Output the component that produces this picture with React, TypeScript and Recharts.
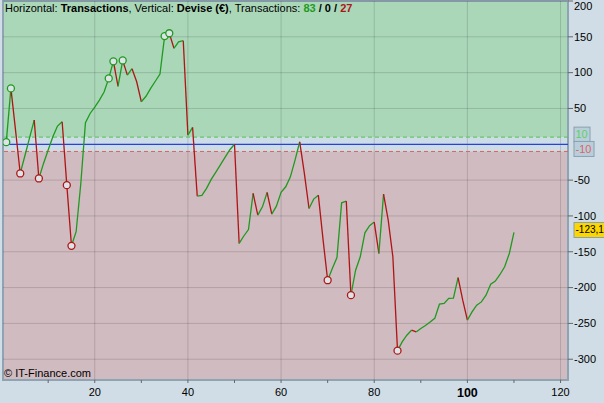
import React from 'react';
import { ComposedChart, Line, XAxis, YAxis, ReferenceArea, ReferenceLine } from 'recharts';

// cumulative result (€) after each transaction
const equity: number[] = [
  3, 78, 19, -40.7, -16, 9, 33.8, -47.7, -26.7, -8,
  10.5, 25.4, 31.4, -57, -141.7, -122, -55, 30, 43, 52,
  61.7, 73, 92, 115.8, 81, 117, 96.6, 105.5, 87.3, 59.4,
  67, 78, 88, 98, 151, 155, 134, 143, 144.6, 12.8,
  23.6, -72.3, -71.4, -61.6, -49, -38.8, -28.4, -17.9, -7.6, 0,
  -138.4, -128, -119, -68.6, -98.9, -87.3, -67.2, -97.5, -86.3, -67,
  -59.3, -45.4, -22, 3.5, -40.7, -89.6, -76.5, -71, -132.4, -189.7,
  -173.4, -158, -81.7, -79.3, -210.6, -175.7, -157, -123.6, -113.5, -108.6,
  -152.4, -69.6, -105.9, -157, -288, -275.8, -266.5, -259.5, -261.9, -257,
  -253, -248, -243, -223.2, -222.2, -215, -214.6, -186, -217.6, -245.5,
  -234, -224.6, -220, -210.6, -195.3, -191, -181.7, -171, -152.4, -123.1,
];

const xTicks = [10, 20, 30, 40, 50, 60, 70, 80, 90, 100, 110, 120];
const xGrid = [20, 40, 60, 80, 100, 120];
const yTicks = [200, 150, 100, 50, -50, -100, -150, -200, -250, -300];
const upperLimit = 10;
const lowerLimit = -10;
const wins = 83;
const flats = 0;
const losses = 27;

const GREEN = '#1f9a1f';
const RED = '#b01414';
const FONT = '"Liberation Sans", Arial, sans-serif';

// split the curve into runs going up (green) or down (red)
const rows: any[] = equity.map((v, i) => ({ n: i + 1 }));
const runs: { key: string; color: string }[] = [];
let dir = 0;
for (let i = 1; i < equity.length; i++) {
  const d = equity[i] >= equity[i - 1] ? 1 : -1;
  if (d !== dir) {
    dir = d;
    runs.push({ key: 'run' + runs.length, color: d > 0 ? GREEN : RED });
    rows[i - 1][runs[runs.length - 1].key] = equity[i - 1];
  }
  rows[i][runs[runs.length - 1].key] = equity[i];
}

// new highs / new lows get a circle
let hi = -Infinity;
let lo = Infinity;
equity.forEach((v, i) => {
  if (v > hi) { rows[i].high = v; hi = v; }
  if (i > 0 && v < lo) { rows[i].low = v; }
  lo = Math.min(lo, v);
});

const last = equity[equity.length - 1];

const XTick = (props: any) => {
  const { x, y, payload } = props;
  const v = payload.value;
  if (v % 20 !== 0) return <g />;
  return (
    <text x={x} y={y} dy="0.71em" textAnchor="middle" fontFamily={FONT}
      fontSize={v === 100 ? 12.5 : 11} fontWeight={v === 100 ? 'bold' : 'normal'} fill="#000">
      {v}
    </text>
  );
};

const YTick = (props: any) => {
  const { x, y, payload } = props;
  return (
    <text x={x} y={Math.max(y, 6)} dy="0.35em" textAnchor="start" fontFamily={FONT} fontSize={11} fill="#000">
      {payload.value}
    </text>
  );
};

const boxLabel = (text: string, fill: string, color: string, w: number, fs: number) => (props: any) => {
  const vb = props.viewBox;
  const x = vb.x + vb.width + 6;
  const y = vb.y;
  return (
    <g>
      <rect x={x} y={y - 10} width={w} height={15} fill={fill} stroke="#8aa0ae" />
      <text x={x + 1.5} y={y - 2.5} dy="0.35em" fontFamily={FONT} fontSize={fs} fill={color}>{text}</text>
    </g>
  );
};

export default function App() {
  return (
    <div style={{ position: 'absolute', left: 0, top: 0, width: 604, height: 403, background: '#d0dde6', overflow: 'hidden' }}>
      <ComposedChart width={604} height={403} data={rows} margin={{ top: 1, left: 3, right: 0, bottom: 0 }}>
        <XAxis dataKey="n" type="number" domain={[0.3, 121.6]} allowDataOverflow ticks={xTicks} interval={0}
          axisLine={false} tickSize={3} tickMargin={5} tickLine={{ stroke: '#666' }} tick={<XTick />} height={23} />
        <YAxis orientation="right" type="number" domain={[-329, 200]} allowDataOverflow ticks={yTicks} interval={0}
          axisLine={false} tickSize={5} tickMargin={1} tickLine={{ stroke: '#666' }} tick={<YTick />} width={36} />

        <ReferenceArea y1={upperLimit} y2={200} fill="#aad7b8" fillOpacity={1} stroke="none" />
        <ReferenceArea y1={lowerLimit} y2={upperLimit} fill="#ccdde6" fillOpacity={1} stroke="none" />
        <ReferenceArea y1={-329} y2={lowerLimit} fill="#d0bbc0" fillOpacity={1} stroke="none" />

        {yTicks.map((t) => (
          <ReferenceLine key={'h' + t} y={t} stroke="#000" strokeOpacity={0.14} />
        ))}
        {xGrid.map((t) => (
          <ReferenceLine key={'v' + t} x={t} stroke="#000" strokeOpacity={0.14} />
        ))}

        <ReferenceLine y={upperLimit} stroke="#55c055" strokeDasharray="4 3"
          label={boxLabel(String(upperLimit), '#b8cfdb', '#5fcf5f', 16, 11)} />
        <ReferenceLine y={lowerLimit} stroke="#e06060" strokeDasharray="4 3"
          label={boxLabel(String(lowerLimit), '#b8cfdb', '#e06262', 20, 11)} />
        <ReferenceLine y={0} stroke="#2a3fe0" strokeWidth={1.3} />

        {runs.map((r) => (
          <Line key={r.key} dataKey={r.key} stroke={r.color} strokeWidth={1.3} dot={false} activeDot={false}
            isAnimationActive={false} connectNulls={false} />
        ))}
        <Line dataKey="high" stroke="none" isAnimationActive={false} activeDot={false}
          dot={{ r: 3.5, fill: '#dde4e8', stroke: GREEN, strokeWidth: 1.3 }} />
        <Line dataKey="low" stroke="none" isAnimationActive={false} activeDot={false}
          dot={{ r: 3.5, fill: '#dde4e8', stroke: RED, strokeWidth: 1.3 }} />

        <ReferenceArea x1={0.3} x2={121.6} y1={-329} y2={200} fill="none" stroke="#8ea4b2" strokeWidth={2} />
        <ReferenceLine y={last} stroke="none"
          label={boxLabel(last.toFixed(1).replace('.', ','), '#fcd600', '#000', 32, 10)} />
      </ComposedChart>
      <div style={{ position: 'absolute', left: 5, top: 1, fontFamily: FONT, fontSize: 11, lineHeight: '14px', color: '#000', whiteSpace: 'nowrap' }}>
        Horizontal: <b>Transactions</b>, Vertical: <b>Devise (€)</b>, Transactions:{' '}
        <b style={{ color: GREEN }}>{wins}</b> <b>/ {flats} /</b> <b style={{ color: RED }}>{losses}</b>
      </div>
      <div style={{ position: 'absolute', left: 4, top: 366, fontFamily: FONT, fontSize: 11, lineHeight: '14px', color: '#000' }}>
        © IT-Finance.com
      </div>
    </div>
  );
}
